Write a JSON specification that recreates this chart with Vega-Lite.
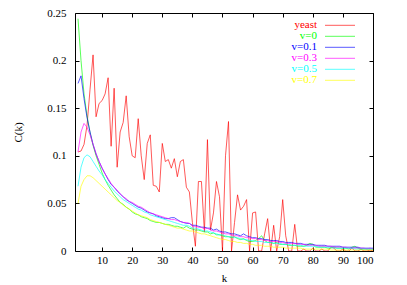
{
"$schema": "https://vega.github.io/schema/vega-lite/v6.json",
"width": 298, "height": 238,
"autosize": "none",
"padding": {"left": 75, "top": 13, "right": 34, "bottom": 34},
"config": {
  "font": "Liberation Serif, DejaVu Serif, serif",
  "view": {"stroke": "#000", "strokeWidth": 1},
  "axis": {"grid": false, "domain": false, "labelFont": "Liberation Serif, DejaVu Serif, serif", "titleFont": "Liberation Serif, DejaVu Serif, serif", "labelFontSize": 11, "titleFontSize": 11, "titleFontWeight": "normal", "labelColor": "#000", "titleColor": "#000", "tickColor": "#000", "tickSize": -4}
},
"data": {"values": [
{"k":2,"yeast":0.104,"v0":0.244,"v01":0.176,"v03":0.104,"v05":0.068,"v07":0.050},
{"k":3,"yeast":0.105,"v0":0.200,"v01":0.184,"v03":0.125,"v05":0.088,"v07":0.068},
{"k":4,"yeast":0.112,"v0":0.165,"v01":0.160,"v03":0.134,"v05":0.098,"v07":0.075},
{"k":5,"yeast":0.132,"v0":0.142,"v01":0.140,"v03":0.130,"v05":0.101,"v07":0.079},
{"k":6,"yeast":0.170,"v0":0.124,"v01":0.125,"v03":0.122,"v05":0.099,"v07":0.079},
{"k":7,"yeast":0.206,"v0":0.111,"v01":0.112,"v03":0.112,"v05":0.094,"v07":0.077},
{"k":8,"yeast":0.141,"v0":0.100,"v01":0.102,"v03":0.102,"v05":0.089,"v07":0.074},
{"k":9,"yeast":0.155,"v0":0.091,"v01":0.094,"v03":0.094,"v05":0.084,"v07":0.071},
{"k":10,"yeast":0.158,"v0":0.082,"v01":0.087,"v03":0.087,"v05":0.080,"v07":0.068},
{"k":11,"yeast":0.165,"v0":0.075,"v01":0.081,"v03":0.081,"v05":0.075,"v07":0.065},
{"k":12,"yeast":0.182,"v0":0.069,"v01":0.075,"v03":0.076,"v05":0.071,"v07":0.062},
{"k":13,"yeast":0.110,"v0":0.064,"v01":0.070,"v03":0.071,"v05":0.067,"v07":0.059},
{"k":14,"yeast":0.171,"v0":0.059,"v01":0.067,"v03":0.067,"v05":0.063,"v07":0.056},
{"k":15,"yeast":0.088,"v0":0.055,"v01":0.063,"v03":0.064,"v05":0.060,"v07":0.053},
{"k":16,"yeast":0.125,"v0":0.051,"v01":0.060,"v03":0.060,"v05":0.057,"v07":0.051},
{"k":17,"yeast":0.135,"v0":0.049,"v01":0.057,"v03":0.057,"v05":0.054,"v07":0.048},
{"k":18,"yeast":0.163,"v0":0.046,"v01":0.054,"v03":0.055,"v05":0.052,"v07":0.046},
{"k":19,"yeast":0.120,"v0":0.044,"v01":0.052,"v03":0.052,"v05":0.050,"v07":0.044},
{"k":20,"yeast":0.100,"v0":0.041,"v01":0.050,"v03":0.051,"v05":0.048,"v07":0.042},
{"k":21,"yeast":0.098,"v0":0.039,"v01":0.048,"v03":0.049,"v05":0.046,"v07":0.040},
{"k":22,"yeast":0.139,"v0":0.038,"v01":0.046,"v03":0.047,"v05":0.044,"v07":0.038},
{"k":23,"yeast":0.100,"v0":0.036,"v01":0.045,"v03":0.046,"v05":0.043,"v07":0.037},
{"k":24,"yeast":0.075,"v0":0.035,"v01":0.043,"v03":0.044,"v05":0.041,"v07":0.036},
{"k":25,"yeast":0.113,"v0":0.034,"v01":0.041,"v03":0.042,"v05":0.040,"v07":0.035},
{"k":26,"yeast":0.122,"v0":0.032,"v01":0.040,"v03":0.040,"v05":0.038,"v07":0.033},
{"k":27,"yeast":0.069,"v0":0.031,"v01":0.039,"v03":0.039,"v05":0.037,"v07":0.032},
{"k":28,"yeast":0.068,"v0":0.030,"v01":0.037,"v03":0.038,"v05":0.036,"v07":0.031},
{"k":29,"yeast":0.062,"v0":0.030,"v01":0.036,"v03":0.037,"v05":0.035,"v07":0.030},
{"k":30,"yeast":0.113,"v0":0.029,"v01":0.035,"v03":0.036,"v05":0.034,"v07":0.029},
{"k":31,"yeast":0.094,"v0":0.028,"v01":0.034,"v03":0.035,"v05":0.033,"v07":0.028},
{"k":32,"yeast":0.096,"v0":0.028,"v01":0.034,"v03":0.034,"v05":0.032,"v07":0.027},
{"k":33,"yeast":0.087,"v0":0.027,"v01":0.035,"v03":0.033,"v05":0.031,"v07":0.026},
{"k":34,"yeast":0.097,"v0":0.026,"v01":0.035,"v03":0.033,"v05":0.030,"v07":0.025},
{"k":35,"yeast":0.078,"v0":0.026,"v01":0.033,"v03":0.032,"v05":0.029,"v07":0.024},
{"k":36,"yeast":0.094,"v0":0.025,"v01":0.031,"v03":0.031,"v05":0.028,"v07":0.024},
{"k":37,"yeast":0.096,"v0":0.024,"v01":0.030,"v03":0.030,"v05":0.027,"v07":0.023},
{"k":38,"yeast":0.067,"v0":0.026,"v01":0.029,"v03":0.030,"v05":0.027,"v07":0.022},
{"k":39,"yeast":0.062,"v0":0.024,"v01":0.029,"v03":0.029,"v05":0.026,"v07":0.021},
{"k":40,"yeast":0.030,"v0":0.023,"v01":0.027,"v03":0.026,"v05":0.024,"v07":0.021},
{"k":41,"yeast":0.005,"v0":0.022,"v01":0.027,"v03":0.026,"v05":0.024,"v07":0.020},
{"k":42,"yeast":0.073,"v0":0.022,"v01":0.026,"v03":0.025,"v05":0.023,"v07":0.019},
{"k":43,"yeast":0.073,"v0":0.021,"v01":0.025,"v03":0.025,"v05":0.022,"v07":0.018},
{"k":44,"yeast":0.020,"v0":0.020,"v01":0.025,"v03":0.023,"v05":0.021,"v07":0.018},
{"k":45,"yeast":0.117,"v0":0.020,"v01":0.024,"v03":0.024,"v05":0.021,"v07":0.017},
{"k":46,"yeast":0.022,"v0":0.018,"v01":0.024,"v03":0.022,"v05":0.020,"v07":0.016},
{"k":47,"yeast":0.040,"v0":0.019,"v01":0.022,"v03":0.021,"v05":0.019,"v07":0.015},
{"k":48,"yeast":0.073,"v0":0.017,"v01":0.023,"v03":0.021,"v05":0.018,"v07":0.014},
{"k":49,"yeast":0.057,"v0":0.017,"v01":0.021,"v03":0.020,"v05":0.017,"v07":0.013},
{"k":50,"yeast":0.000,"v0":0.016,"v01":0.020,"v03":0.019,"v05":0.017,"v07":0.012},
{"k":51,"yeast":0.100,"v0":0.015,"v01":0.020,"v03":0.018,"v05":0.016,"v07":0.012},
{"k":52,"yeast":0.136,"v0":0.015,"v01":0.019,"v03":0.018,"v05":0.015,"v07":0.011},
{"k":53,"yeast":0.000,"v0":0.014,"v01":0.018,"v03":0.017,"v05":0.015,"v07":0.010},
{"k":54,"yeast":0.030,"v0":0.015,"v01":0.018,"v03":0.016,"v05":0.014,"v07":0.010},
{"k":55,"yeast":0.059,"v0":0.013,"v01":0.017,"v03":0.016,"v05":0.014,"v07":0.009},
{"k":56,"yeast":0.043,"v0":0.012,"v01":0.016,"v03":0.015,"v05":0.013,"v07":0.009},
{"k":57,"yeast":0.047,"v0":0.013,"v01":0.018,"v03":0.015,"v05":0.012,"v07":0.008},
{"k":58,"yeast":0.054,"v0":0.011,"v01":0.016,"v03":0.014,"v05":0.012,"v07":0.008},
{"k":59,"yeast":0.000,"v0":0.010,"v01":0.015,"v03":0.014,"v05":0.011,"v07":0.007},
{"k":60,"yeast":0.040,"v0":0.010,"v01":0.014,"v03":0.013,"v05":0.011,"v07":0.007},
{"k":61,"yeast":0.041,"v0":0.011,"v01":0.014,"v03":0.013,"v05":0.010,"v07":0.006},
{"k":62,"yeast":0.000,"v0":0.013,"v01":0.013,"v03":0.012,"v05":0.010,"v07":0.006},
{"k":63,"yeast":0.000,"v0":0.016,"v01":0.013,"v03":0.012,"v05":0.010,"v07":0.006},
{"k":64,"yeast":0.018,"v0":0.011,"v01":0.012,"v03":0.011,"v05":0.009,"v07":0.005},
{"k":65,"yeast":0.034,"v0":0.009,"v01":0.012,"v03":0.011,"v05":0.009,"v07":0.005},
{"k":66,"yeast":0.000,"v0":0.009,"v01":0.011,"v03":0.010,"v05":0.009,"v07":0.005},
{"k":67,"yeast":0.027,"v0":0.008,"v01":0.011,"v03":0.010,"v05":0.008,"v07":0.004},
{"k":68,"yeast":0.000,"v0":0.009,"v01":0.011,"v03":0.010,"v05":0.008,"v07":0.004},
{"k":69,"yeast":0.015,"v0":0.007,"v01":0.010,"v03":0.009,"v05":0.008,"v07":0.004},
{"k":70,"yeast":0.054,"v0":0.007,"v01":0.010,"v03":0.009,"v05":0.007,"v07":0.004},
{"k":71,"yeast":0.016,"v0":0.007,"v01":0.009,"v03":0.008,"v05":0.007,"v07":0.003},
{"k":72,"yeast":0.000,"v0":0.006,"v01":0.009,"v03":0.008,"v05":0.007,"v07":0.003},
{"k":73,"yeast":0.000,"v0":0.006,"v01":0.009,"v03":0.008,"v05":0.006,"v07":0.003},
{"k":74,"yeast":0.028,"v0":0.006,"v01":0.008,"v03":0.008,"v05":0.006,"v07":0.003},
{"k":75,"yeast":0.000,"v0":0.005,"v01":0.008,"v03":0.007,"v05":0.006,"v07":0.003},
{"k":76,"yeast":0.000,"v0":0.005,"v01":0.008,"v03":0.007,"v05":0.006,"v07":0.003},
{"k":77,"yeast":0.002,"v0":0.005,"v01":0.007,"v03":0.007,"v05":0.005,"v07":0.002},
{"k":78,"yeast":0.000,"v0":0.006,"v01":0.007,"v03":0.006,"v05":0.005,"v07":0.002},
{"k":79,"yeast":0.000,"v0":0.008,"v01":0.007,"v03":0.006,"v05":0.005,"v07":0.002},
{"k":80,"yeast":0.003,"v0":0.007,"v01":0.007,"v03":0.006,"v05":0.005,"v07":0.002},
{"k":81,"yeast":0.000,"v0":0.004,"v01":0.006,"v03":0.006,"v05":0.005,"v07":0.002},
{"k":82,"yeast":0.000,"v0":0.004,"v01":0.006,"v03":0.005,"v05":0.004,"v07":0.002},
{"k":83,"yeast":0.002,"v0":0.004,"v01":0.006,"v03":0.005,"v05":0.004,"v07":0.002},
{"k":84,"yeast":0.000,"v0":0.004,"v01":0.006,"v03":0.005,"v05":0.004,"v07":0.002},
{"k":85,"yeast":0.000,"v0":0.003,"v01":0.005,"v03":0.005,"v05":0.004,"v07":0.002},
{"k":86,"yeast":0.004,"v0":0.003,"v01":0.005,"v03":0.005,"v05":0.004,"v07":0.001},
{"k":87,"yeast":0.003,"v0":0.004,"v01":0.005,"v03":0.004,"v05":0.003,"v07":0.001},
{"k":88,"yeast":0.000,"v0":0.003,"v01":0.005,"v03":0.004,"v05":0.003,"v07":0.001},
{"k":89,"yeast":0.000,"v0":0.003,"v01":0.005,"v03":0.004,"v05":0.003,"v07":0.001},
{"k":90,"yeast":0.002,"v0":0.003,"v01":0.004,"v03":0.004,"v05":0.003,"v07":0.001},
{"k":91,"yeast":0.000,"v0":0.003,"v01":0.004,"v03":0.004,"v05":0.003,"v07":0.001},
{"k":92,"yeast":0.000,"v0":0.002,"v01":0.004,"v03":0.003,"v05":0.003,"v07":0.001},
{"k":93,"yeast":0.003,"v0":0.004,"v01":0.004,"v03":0.003,"v05":0.003,"v07":0.001},
{"k":94,"yeast":0.000,"v0":0.005,"v01":0.004,"v03":0.003,"v05":0.002,"v07":0.001},
{"k":95,"yeast":0.000,"v0":0.003,"v01":0.004,"v03":0.003,"v05":0.002,"v07":0.001},
{"k":96,"yeast":0.002,"v0":0.002,"v01":0.003,"v03":0.003,"v05":0.002,"v07":0.001},
{"k":97,"yeast":0.000,"v0":0.002,"v01":0.003,"v03":0.003,"v05":0.002,"v07":0.001},
{"k":98,"yeast":0.000,"v0":0.002,"v01":0.003,"v03":0.002,"v05":0.002,"v07":0.001},
{"k":99,"yeast":0.001,"v0":0.002,"v01":0.003,"v03":0.003,"v05":0.002,"v07":0.001},
{"k":100,"yeast":0.000,"v0":0.002,"v01":0.003,"v03":0.002,"v05":0.002,"v07":0.001}
]},
"transform": [{"fold": ["yeast","v0","v01","v03","v05","v07"], "as": ["series","C"]}],
"layer": [
  {
    "mark": {"type": "line", "strokeWidth": 1, "strokeOpacity": 0.65, "clip": true},
    "encoding": {
      "x": {"field": "k", "type": "quantitative", "scale": {"domain": [1, 100], "nice": false, "zero": false},
            "axis": {"values": [10,20,30,40,50,60,70,80,90,100], "title": "k", "labelPadding": 7, "titlePadding": 7}},
      "y": {"field": "C", "type": "quantitative", "scale": {"domain": [0, 0.25], "nice": false},
            "axis": {"values": [0,0.05,0.1,0.15,0.2,0.25], "format": ".2~f", "title": "C(k)", "labelPadding": 13, "titlePadding": 23}},
      "color": {"field": "series", "type": "nominal",
        "scale": {"domain": ["yeast","v0","v01","v03","v05","v07"], "range": ["#ff0000","#00ff00","#0000ff","#ff00ff","#00ffff","#ffff00"]},
        "legend": {
          "orient": "none", "legendX": 242, "legendY": 6.3, "title": null,
          "symbolType": "stroke", "symbolSize": 900, "symbolStrokeWidth": 1,
          "labelFont": "Liberation Serif, DejaVu Serif, serif", "labelFontSize": 11, "padding": 0, "rowPadding": 0,
          "labelExpr": "{'yeast':'yeast','v0':'v=0','v01':'v=0.1','v03':'v=0.3','v05':'v=0.5','v07':'v=0.7'}[datum.value]",
          "encode": {
            "labels": {"update": {"align": {"value": "right"}, "baseline": {"value": "middle"}, "x": {"value": 0}, "y": {"value": 6}, "fill": {"scale": "color", "field": "value"}}},
            "symbols": {"update": {"x": {"value": 23}, "y": {"value": 6}, "stroke": {"scale": "color", "field": "value"}, "strokeOpacity": {"value": 0.65}}}
          }
        }
      }
    }
  },
  {
    "mark": {"type": "line", "opacity": 0},
    "encoding": {
      "x": {"field": "k", "type": "quantitative", "axis": {"orient": "top", "values": [10,20,30,40,50,60,70,80,90,100], "labels": false, "title": null}},
      "y": {"field": "C", "type": "quantitative", "axis": {"orient": "right", "values": [0,0.05,0.1,0.15,0.2,0.25], "labels": false, "title": null}}
    }
  }
],
"resolve": {"axis": {"x": "independent", "y": "independent"}}
}
